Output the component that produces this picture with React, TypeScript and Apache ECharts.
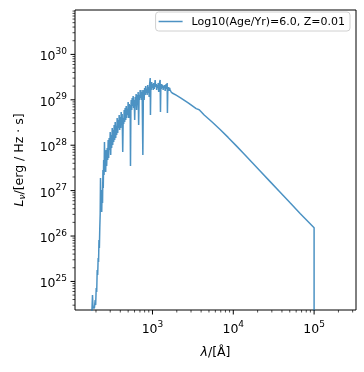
import React, { useEffect, useRef } from "react";
import * as echarts from "echarts";

const seriesName = "Log10(Age/Yr)=6.0, Z=0.01";

// log10 of wavelength [Å]
const logWavelength = [
  2.242, 2.258, 2.264, 2.281, 2.291, 2.297, 2.304, 2.310, 2.316, 2.322,
  2.328, 2.333, 2.338, 2.343, 2.348, 2.353, 2.357, 2.362, 2.367, 2.372,
  2.377, 2.382, 2.387, 2.391, 2.396, 2.401, 2.406, 2.411, 2.416, 2.421,
  2.427, 2.433, 2.440, 2.446, 2.452, 2.458, 2.464, 2.471, 2.477, 2.483,
  2.489, 2.495, 2.502, 2.508, 2.514, 2.520, 2.526, 2.532, 2.539, 2.545,
  2.551, 2.557, 2.563, 2.570, 2.576, 2.582, 2.588, 2.594, 2.601, 2.607,
  2.613, 2.619, 2.625, 2.632, 2.638, 2.644, 2.650, 2.656, 2.662, 2.669,
  2.675, 2.681, 2.687, 2.693, 2.699, 2.706, 2.712, 2.718, 2.724, 2.728,
  2.733, 2.737, 2.743, 2.749, 2.755, 2.761, 2.767, 2.774, 2.780, 2.786,
  2.792, 2.798, 2.804, 2.811, 2.817, 2.823, 2.829, 2.835, 2.841, 2.848,
  2.854, 2.860, 2.866, 2.872, 2.881, 2.887, 2.893, 2.897, 2.903, 2.910,
  2.916, 2.922, 2.928, 2.934, 2.941, 2.947, 2.953, 2.959, 2.965, 2.972,
  2.975, 2.980, 2.984, 2.990, 2.996, 3.002, 3.009, 3.015, 3.021, 3.027,
  3.033, 3.040, 3.046, 3.052, 3.058, 3.064, 3.071, 3.077, 3.083, 3.089,
  3.095, 3.099, 3.104, 3.108, 3.114, 3.120, 3.126, 3.132, 3.138, 3.145,
  3.151, 3.157, 3.163, 3.169, 3.175, 3.182, 3.185, 3.190, 3.194, 3.200,
  3.206, 3.212, 3.219, 3.231, 3.244,
  3.293, 3.343, 3.442, 3.541, 3.578, 3.596, 3.640, 3.738, 3.837, 3.936,
  4.035, 4.134, 4.233, 4.332, 4.456, 4.580, 4.703, 4.827, 5.0, 5.0,
];

// log10 of L_nu [erg / Hz / s]
const logLuminosity = [
  23.929, 24.700, 24.414, 24.414, 24.590, 24.480, 24.855, 24.766, 25.251, 25.141,
  25.515, 25.427, 25.912, 25.736, 26.176, 26.485, 27.277, 26.683, 26.903, 26.529,
  27.013, 26.727, 27.454, 27.057, 27.674, 27.344, 28.070, 27.564, 27.784, 27.410,
  27.894, 27.542, 27.938, 27.674, 28.115, 27.718, 28.159, 27.894, 28.291, 27.784,
  28.225, 27.938, 28.379, 28.004, 28.335, 28.070, 28.445, 28.115, 28.511, 28.159,
  28.423, 28.225, 28.599, 28.269, 28.555, 28.379, 28.665, 28.335, 28.621, 28.379,
  28.731, 28.445, 28.687, 27.850, 28.599, 28.467, 28.775, 28.511, 28.819, 28.555,
  28.863, 28.599, 28.775, 28.665, 28.951, 28.599, 28.907, 28.731, 28.885, 27.542,
  28.819, 28.995, 28.775, 29.040, 28.863, 29.084, 28.819, 28.995, 28.555, 29.062,
  28.907, 29.128, 28.775, 29.106, 28.929, 29.172, 28.445, 29.106, 28.995, 29.216,
  29.040, 29.172, 28.995, 29.216, 27.784, 29.084, 29.216, 28.995, 29.260, 29.106,
  29.304, 29.150, 29.238, 29.106, 29.326, 29.150, 29.282, 29.062, 29.348, 29.480,
  28.665, 29.304, 29.216, 29.392, 29.260, 29.348, 29.216, 29.370, 29.238, 29.304,
  29.436, 29.282, 29.348, 29.216, 29.326, 29.260, 29.370, 29.172, 29.304, 29.392,
  29.436, 28.731, 29.326, 29.238, 29.348, 29.260, 29.326, 29.216, 29.304, 29.260,
  29.326, 29.194, 29.282, 29.348, 29.238, 29.370, 28.709, 29.260, 29.216, 29.282,
  29.194, 29.260, 29.216, 29.172, 29.150,
  29.101, 29.048, 28.934, 28.806, 28.782, 28.750, 28.665, 28.511, 28.346, 28.172,
  27.991, 27.806, 27.619, 27.432, 27.198, 26.965, 26.731, 26.498, 26.183, 20,
];

const xRange = [110, 3.3e5];
const yRange = [2.35e24, 9.5e30];
const xDecades = [2, 3, 4, 5];
const yDecades = [24, 25, 26, 27, 28, 29, 30];
const mantissas = [1, 2, 3, 4, 5, 6, 7, 8, 9];

const FONT = "DejaVu Sans";
const LINE_COLOR = "rgba(31,119,180,0.8)";

function buildTicks(decades: number[], range: number[]) {
  const out: { v: number; major: boolean }[] = [];
  for (const d of decades) {
    for (const m of mantissas) {
      const v = m * Math.pow(10, d);
      if (v >= range[0] * 1.0001 && v <= range[1] / 1.0001) out.push({ v, major: m === 1 });
    }
  }
  return out;
}

const labelFormatter = (v: number) => {
  const e = Math.log10(v);
  const r = Math.round(e);
  if (Math.abs(e - r) > 1e-6) return "";
  return `{b|10}{s|${r}}`;
};

const labelRich = {
  b: { fontFamily: FONT, fontSize: 12.5, lineHeight: 16, color: "#000", verticalAlign: "bottom" },
  s: { fontFamily: FONT, fontSize: 9, lineHeight: 9, color: "#000", verticalAlign: "top" },
};

export default function App() {
  const ref = useRef<HTMLDivElement>(null);
  useEffect(() => {
    if (!ref.current) return;
    const chart = echarts.init(ref.current, undefined, { renderer: "svg" });
    const lineData = logWavelength.map((lx, i) => [Math.pow(10, lx), Math.pow(10, logLuminosity[i])]);
    const xTicks = buildTicks(xDecades, xRange).map((t) => [t.v, yRange[0], t.major ? 4.5 : 2.5]);
    const yTicks = buildTicks(yDecades, yRange).map((t) => [xRange[0], t.v, t.major ? 4.5 : 2.5]);

    chart.setOption({
      animation: false,
      grid: { left: 75, right: 8, top: 10, bottom: 62, show: true, borderColor: "#000", borderWidth: 1, backgroundColor: "transparent" },
      legend: {
        data: [seriesName],
        right: 14,
        top: 12,
        icon: "rect",
        itemWidth: 24,
        itemHeight: 1.5,
        padding: [4, 5, 4, 3],
        borderColor: "#d0d0d0",
        borderWidth: 1,
        borderRadius: 3,
        textStyle: { fontFamily: FONT, fontSize: 11, color: "#000", padding: [0, 0, 0, 4] },
        itemStyle: { color: LINE_COLOR },
      },
      xAxis: {
        type: "log",
        logBase: 10,
        min: xRange[0],
        max: xRange[1],
        axisLine: { show: false },
        axisTick: { show: false },
        splitLine: { show: false },
        axisLabel: { margin: 9, formatter: labelFormatter, rich: labelRich, showMinLabel: false, showMaxLabel: false },
        name: "{i|λ}{n|/[Å]}",
        nameLocation: "middle",
        nameGap: 35,
        nameTextStyle: {
          rich: {
            i: { fontFamily: FONT, fontSize: 12.5, fontStyle: "italic", color: "#000" },
            n: { fontFamily: FONT, fontSize: 12.5, color: "#000" },
          },
        },
      },
      yAxis: {
        type: "log",
        logBase: 10,
        min: yRange[0],
        max: yRange[1],
        axisLine: { show: false },
        axisTick: { show: false },
        splitLine: { show: false },
        axisLabel: { margin: 8, formatter: labelFormatter, rich: labelRich, showMinLabel: false, showMaxLabel: false },
        name: "{i|L}{sub|ν}{n|/[erg / Hz · s]}",
        nameLocation: "middle",
        nameRotate: 90,
        nameGap: 49,
        nameTextStyle: {
          rich: {
            i: { fontFamily: FONT, fontSize: 12.5, fontStyle: "italic", color: "#000", lineHeight: 16 },
            sub: { fontFamily: FONT, fontSize: 9, fontStyle: "italic", color: "#000", lineHeight: 9, verticalAlign: "bottom" },
            n: { fontFamily: FONT, fontSize: 12.5, color: "#000", lineHeight: 16 },
          },
        },
      },
      series: [
        {
          name: seriesName,
          type: "line",
          data: lineData,
          showSymbol: false,
          symbol: "none",
          clip: true,
          lineStyle: { color: LINE_COLOR, width: 1.5 },
          itemStyle: { color: LINE_COLOR },
          z: 3,
        },
        {
          type: "custom",
          coordinateSystem: "cartesian2d",
          silent: true,
          clip: false,
          z: 5,
          data: xTicks,
          renderItem: (params: any, api: any) => {
            const p = api.coord([api.value(0), api.value(1)]);
            const len = api.value(2);
            return {
              type: "line",
              shape: { x1: p[0], y1: p[1], x2: p[0], y2: p[1] + len },
              style: { stroke: "#000", lineWidth: len > 3 ? 1 : 0.7 },
            };
          },
        },
        {
          type: "custom",
          coordinateSystem: "cartesian2d",
          silent: true,
          clip: false,
          z: 5,
          data: yTicks,
          renderItem: (params: any, api: any) => {
            const p = api.coord([api.value(0), api.value(1)]);
            const len = api.value(2);
            return {
              type: "line",
              shape: { x1: p[0], y1: p[1], x2: p[0] - len, y2: p[1] },
              style: { stroke: "#000", lineWidth: len > 3 ? 1 : 0.7 },
            };
          },
        },
      ],
    });
    return () => chart.dispose();
  }, []);
  return <div ref={ref} style={{ position: "fixed", left: 0, top: 0, width: 364, height: 372 }} />;
}
